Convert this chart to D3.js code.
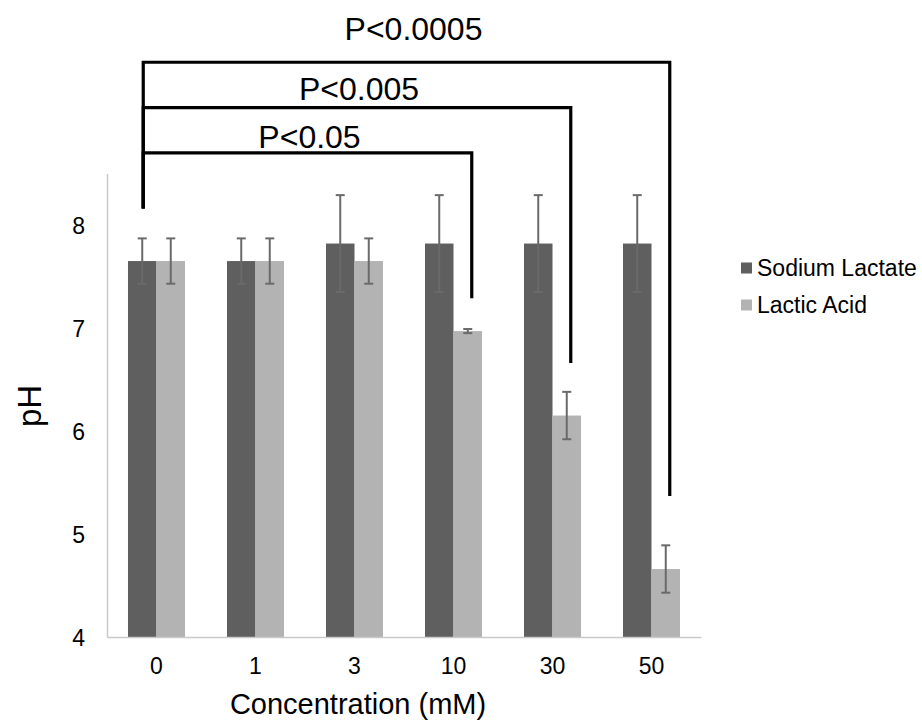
<html>
    <style>
        body {
            margin: 0;
            background: white;
            font-family: 'Liberation Sans', Arial, sans-serif;
        }

        svg {
            overflow: visible;
        }

        .y .tick line, .x .tick line {
            display: none;
        }

        .axis .domain {
            stroke: #c9c9c9;
            stroke-width: 1.5;
        }

        .axis text {
            font-family: 'Liberation Sans', Arial, sans-serif;
            font-size: 23px;
            fill: black;
        }
    </style>

    <body>
        <svg width="922" height="723"></svg>

        <script src="https://d3js.org/d3.v7.min.js"></script>

        <script>
            // data
            let concentrations = ["0", "1", "3", "10", "30", "50"]
            let seriesNames = ["Sodium Lactate", "Lactic Acid"]
            let sodiumLactate = [7.65, 7.65, 7.82, 7.82, 7.82, 7.82]
            let sodiumLactateErr = [0.22, 0.22, 0.47, 0.47, 0.47, 0.47]
            let lacticAcid = [7.65, 7.65, 7.65, 6.97, 6.15, 4.66]
            let lacticAcidErr = [0.22, 0.22, 0.22, 0.02, 0.23, 0.23]
            let yTicks = [4, 5, 6, 7, 8]

            // significance brackets: compare "0" against target, top and bottom in pH units
            let bracketLabels = ["P<0.05", "P<0.005", "P<0.0005"]
            let bracketTargets = ["10", "30", "50"]
            let bracketTops = [8.70, 9.14, 9.58]
            let bracketEnds = [7.29, 6.66, 5.37]
            let bracketStart = 8.16

            let colors = ["#5f5f5f", "#b3b3b3"]

            let svg = d3.select("svg")

            let margin = {top: 175, left: 107, right: 221, bottom: 86}
            let width = 922
            let height = 723

            let x = d3.scaleBand()
                .domain(concentrations)
                .range([margin.left, width - margin.right])
                .paddingInner(0.424)
                .paddingOuter(0.212)

            let xSub = d3.scaleBand()
                .domain(seriesNames)
                .range([0, x.bandwidth()])

            let y = d3.scaleLinear()
                .domain([4, 8.5])
                .range([637, 637 - 4.5 * 103])

            let rows = []
            concentrations.forEach((c, i) => {
                rows.push({c: c, s: seriesNames[0], v: sodiumLactate[i], e: sodiumLactateErr[i]})
                rows.push({c: c, s: seriesNames[1], v: lacticAcid[i], e: lacticAcidErr[i]})
            })

            // bars
            svg.append("g")
                .attr("class", "bars")
                .selectAll("rect")
                .data(rows)
                .join("rect")
                .attr("x", d => x(d.c) + xSub(d.s))
                .attr("width", xSub.bandwidth())
                .attr("y", d => y(d.v))
                .attr("height", d => y(4) - y(d.v))
                .style("fill", d => colors[seriesNames.indexOf(d.s)])

            // axes
            svg.append("g")
                .attr("class", "y axis")
                .attr("transform", `translate(${margin.left}, 0)`)
                .call(d3.axisLeft(y).tickValues(yTicks).tickFormat(d3.format("d")).tickSize(0).tickPadding(22).tickSizeOuter(0))
                .selectAll("text")
                .attr("dy", "0.36em")

            svg.append("g")
                .attr("class", "x axis")
                .attr("transform", `translate(0, ${y(4)})`)
                .call(d3.axisBottom(x).tickSize(0).tickPadding(21).tickSizeOuter(0))

            // error bars
            let err = svg.append("g")
                .attr("class", "errors")
                .style("stroke", "#6a6a6a")
                .style("stroke-width", 2)

            let cx = d => x(d.c) + xSub(d.s) + xSub.bandwidth() / 2

            err.selectAll(".stem")
                .data(rows)
                .join("line")
                .attr("x1", cx)
                .attr("x2", cx)
                .attr("y1", d => y(d.v + d.e))
                .attr("y2", d => y(d.v - d.e))

            err.selectAll(".capTop")
                .data(rows)
                .join("line")
                .attr("x1", d => cx(d) - 4.5)
                .attr("x2", d => cx(d) + 4.5)
                .attr("y1", d => y(d.v + d.e))
                .attr("y2", d => y(d.v + d.e))

            err.selectAll(".capBottom")
                .data(rows)
                .join("line")
                .attr("x1", d => cx(d) - 4.5)
                .attr("x2", d => cx(d) + 4.5)
                .attr("y1", d => y(d.v - d.e))
                .attr("y2", d => y(d.v - d.e))

            // significance brackets
            let leftX = x("0") + xSub(seriesNames[0]) + xSub.bandwidth() / 2 + 1
            let labelGaps = [5, 8, 22]
            let brackets = svg.append("g")
                .attr("class", "brackets")

            bracketLabels.forEach((label, i) => {
                let rightX = x(bracketTargets[i]) + xSub(seriesNames[1]) + xSub.bandwidth() / 2 + 4
                brackets.append("path")
                    .attr("d", `M${leftX},${y(bracketStart)}V${y(bracketTops[i])}H${rightX}V${y(bracketEnds[i])}`)
                    .style("fill", "none")
                    .style("stroke", "black")
                    .style("stroke-width", 3.2)

                brackets.append("text")
                    .attr("x", (leftX + rightX) / 2 + (i == 2 ? 7 : 2))
                    .attr("y", y(bracketTops[i]) - labelGaps[i])
                    .attr("text-anchor", "middle")
                    .style("font-size", "32px")
                    .text(label)
            })

            // axis titles
            svg.append("text")
                .attr("x", 358)
                .attr("y", 714)
                .attr("text-anchor", "middle")
                .style("font-size", "29px")
                .text("Concentration (mM)")

            svg.append("text")
                .attr("transform", "translate(41, 406) rotate(-90)")
                .attr("text-anchor", "middle")
                .style("font-size", "33px")
                .text("pH")

            // legend
            let legend = svg.append("g")
                .attr("class", "legend")
                .selectAll("g")
                .data(seriesNames)
                .join("g")
                .attr("transform", (d, i) => `translate(741, ${268 + i * 37})`)

            legend.append("rect")
                .attr("x", 0)
                .attr("y", -5.5)
                .attr("width", 11)
                .attr("height", 11)
                .style("fill", (d, i) => colors[i])

            legend.append("text")
                .attr("x", 16)
                .attr("dy", "0.36em")
                .style("font-size", "23px")
                .text(d => d)
        </script>
    </body>
</html>
